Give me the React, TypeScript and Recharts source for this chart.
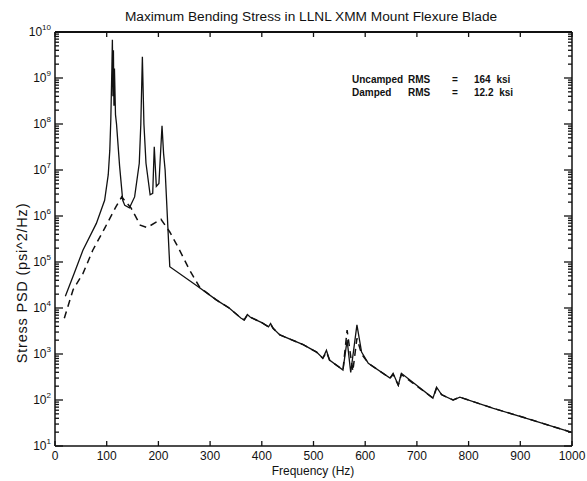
import React from 'react';
import { LineChart, Line, XAxis, YAxis } from 'recharts';

const chartTitle = 'Maximum Bending Stress in LLNL XMM Mount Flexure Blade';
const xTitle = 'Frequency (Hz)';
const yTitle = 'Stress PSD (psi^2/Hz)';

// undamped response (solid)
const undampedFreq = [
  20, 37, 54, 80, 96, 103, 106, 108, 110, 111, 112, 113, 114, 115, 117, 119, 125, 131, 135, 144,
  154, 163, 166, 169, 172, 176, 184, 189, 192, 196, 201, 207, 210, 213, 222, 275, 312, 338, 360,
  366, 372, 378, 400, 413, 417, 422, 435, 480, 506, 518, 525, 531, 557, 565, 572, 584, 593, 606,
  648, 654, 664, 670, 731, 738, 748, 770, 783, 848, 912, 998,
];
const undampedPsd = [
  1.8e4, 5.6e4, 1.8e5, 6.9e5, 2.2e6, 7.9e6, 2.7e7, 1.3e8, 1.6e9, 6.8e9, 4.0e8, 4.0e9, 2.5e8, 1.6e9,
  1.6e8, 1.0e8, 1.2e7, 2.2e6, 1.7e6, 1.5e6, 2.6e6, 1.4e7, 1.0e8, 2.9e9, 1.0e8, 1.4e7, 2.9e6, 3.1e6,
  3.2e7, 4.4e6, 5.1e6, 9.1e7, 2.3e7, 1.0e7, 7.9e4, 3.0e4, 1.5e4, 9.8e3, 6.0e3, 5.5e3, 7.2e3, 6.3e3,
  4.8e3, 3.9e3, 4.6e3, 3.6e3, 2.6e3, 1.6e3, 1.1e3, 810, 1.2e3, 740, 450, 2.0e3, 400, 4.3e3, 1.1e3,
  630, 300, 380, 210, 380, 110, 190, 130, 100, 115, 66, 40, 20,
];

// damped response (dashed)
const dampedFreq = [
  18, 35, 54, 73, 96, 118, 129, 147, 165, 178, 205, 222, 238, 260, 280, 312, 338, 360, 366, 372,
  378, 400, 413, 417, 422, 435, 480, 506, 518, 525, 531, 557, 565, 576, 584, 593, 606, 648, 654,
  664, 670, 731, 738, 748, 770, 783, 848, 912, 998,
];
const dampedPsd = [
  6.0e3, 2.5e4, 5.6e4, 1.8e5, 5.4e5, 1.6e6, 2.6e6, 1.5e6, 6.3e5, 5.6e5, 8.5e5, 4.5e5, 2.1e5, 6.8e4,
  2.8e4, 1.5e4, 9.8e3, 6.0e3, 5.5e3, 7.0e3, 6.3e3, 4.8e3, 3.9e3, 4.4e3, 3.6e3, 2.6e3, 1.6e3, 1.1e3,
  810, 1.1e3, 740, 450, 3.3e3, 420, 2.2e3, 1.0e3, 630, 300, 360, 210, 360, 110, 180, 130, 100, 115,
  66, 40, 20,
];

const freqTicks = [0, 100, 200, 300, 400, 500, 600, 700, 800, 900, 1000];
const decadeTicks = [1e1, 1e2, 1e3, 1e4, 1e5, 1e6, 1e7, 1e8, 1e9, 1e10];
const minorSteps = [2, 3, 4, 5, 6, 7, 8, 9];
const psdTicks = [
  ...decadeTicks,
  ...decadeTicks.slice(0, -1).flatMap((d) => minorSteps.map((m) => d * m)),
].sort((a, b) => a - b);

const legendRows = [
  { name: 'Uncamped', stat: 'RMS', value: '164 ksi' },
  { name: 'Damped', stat: 'RMS', value: '12.2 ksi' },
];

const undamped = undampedFreq.map((f, i) => ({ freq: f, psd: undampedPsd[i] }));
const damped = dampedFreq.map((f, i) => ({ freq: f, psd: dampedPsd[i] }));

const FONT = '"Liberation Sans", Arial, sans-serif';
const INK = '#111';

const isDecade = (v: number) => Math.abs(Math.log10(v) - Math.round(Math.log10(v))) < 1e-6;

const LeftTick = ({ x, y, payload }: any) => {
  const v = payload.value;
  const major = isDecade(v);
  return (
    <g>
      <line x1={x} x2={x + (major ? 8 : 4)} y1={y} y2={y} stroke={INK} strokeWidth={1.3} />
      {major && (
        <text x={x - 4} y={y + 4} textAnchor="end" fontSize={12} fontFamily={FONT} fill={INK}>
          10
          <tspan dy={-6} fontSize={8}>
            {Math.round(Math.log10(v))}
          </tspan>
        </text>
      )}
    </g>
  );
};

const RightTick = ({ x, y, payload }: any) => {
  const major = isDecade(payload.value);
  return <line x1={x} x2={x - (major ? 8 : 4)} y1={y} y2={y} stroke={INK} strokeWidth={1.3} />;
};

const BottomTick = ({ x, y, payload }: any) => (
  <g>
    <line x1={x} x2={x} y1={y} y2={y - 5} stroke={INK} strokeWidth={1.3} />
    <text x={x} y={y + 14} textAnchor="middle" fontSize={12} fontFamily={FONT} fill={INK}>
      {payload.value}
    </text>
  </g>
);

const TopTick = ({ x, y }: any) => (
  <line x1={x} x2={x} y1={y} y2={y + 5} stroke={INK} strokeWidth={1.3} />
);

export default function App() {
  return (
    <div
      style={{
        position: 'absolute',
        left: 0,
        top: 0,
        width: 587,
        height: 481,
        background: '#fff',
        fontFamily: FONT,
        color: INK,
      }}
    >
      <div style={{ position: 'absolute', left: 0, width: 622, top: 9, textAlign: 'center', fontSize: 13.7 }}>
        {chartTitle}
      </div>
      <div
        style={{
          position: 'absolute',
          left: 22,
          top: 283,
          transform: 'translate(-50%, -50%) rotate(-90deg)',
          whiteSpace: 'nowrap',
          fontSize: 14.5,
          letterSpacing: 0.8,
        }}
      >
        {yTitle}
      </div>
      <div style={{ position: 'absolute', left: 0, width: 626, top: 464, textAlign: 'center', fontSize: 12 }}>
        {xTitle}
      </div>
      {legendRows.map((r, i) => (
        <div key={r.name} style={{ position: 'absolute', top: 74 + i * 13, left: 0, fontSize: 10, fontWeight: 'bold' }}>
          <span style={{ position: 'absolute', left: 352 }}>{r.name}</span>
          <span style={{ position: 'absolute', left: 408 }}>{r.stat}</span>
          <span style={{ position: 'absolute', left: 452 }}>=</span>
          <span style={{ position: 'absolute', left: 474, whiteSpace: 'nowrap', wordSpacing: 3 }}>{r.value}</span>
        </div>
      ))}
      <LineChart width={587} height={481} margin={{ top: 31, right: 14, bottom: 0, left: 0 }}>
        <XAxis
          xAxisId="b"
          dataKey="freq"
          type="number"
          domain={[0, 1000]}
          ticks={freqTicks}
          interval={0}
          height={35}
          tickSize={0}
          tickMargin={0}
          tickLine={false}
          tick={<BottomTick />}
          axisLine={{ stroke: INK, strokeWidth: 1.5 }}
          allowDataOverflow
        />
        <XAxis
          xAxisId="t"
          orientation="top"
          dataKey="freq"
          type="number"
          domain={[0, 1000]}
          ticks={freqTicks}
          interval={0}
          height={1}
          tickSize={0}
          tickMargin={0}
          tickLine={false}
          tick={<TopTick />}
          axisLine={{ stroke: INK, strokeWidth: 1.8 }}
          allowDataOverflow
        />
        <YAxis
          yAxisId="l"
          type="number"
          scale="log"
          domain={[10, 1e10]}
          ticks={psdTicks}
          interval={0}
          width={55}
          tickSize={0}
          tickMargin={0}
          tickLine={false}
          tick={<LeftTick />}
          axisLine={{ stroke: INK, strokeWidth: 1.5 }}
          allowDataOverflow
        />
        <YAxis
          yAxisId="r"
          orientation="right"
          type="number"
          scale="log"
          domain={[10, 1e10]}
          ticks={psdTicks}
          interval={0}
          width={1}
          tickSize={0}
          tickMargin={0}
          tickLine={false}
          tick={<RightTick />}
          axisLine={{ stroke: INK, strokeWidth: 1.5 }}
          allowDataOverflow
        />
        <Line
          data={damped}
          dataKey="psd"
          xAxisId="b"
          yAxisId="l"
          type="linear"
          dot={false}
          stroke={INK}
          strokeWidth={1.5}
          strokeDasharray="7 5"
          isAnimationActive={false}
        />
        <Line
          data={undamped}
          dataKey="psd"
          xAxisId="b"
          yAxisId="l"
          type="linear"
          dot={false}
          stroke={INK}
          strokeWidth={1.3}
          isAnimationActive={false}
        />
      </LineChart>
    </div>
  );
}
